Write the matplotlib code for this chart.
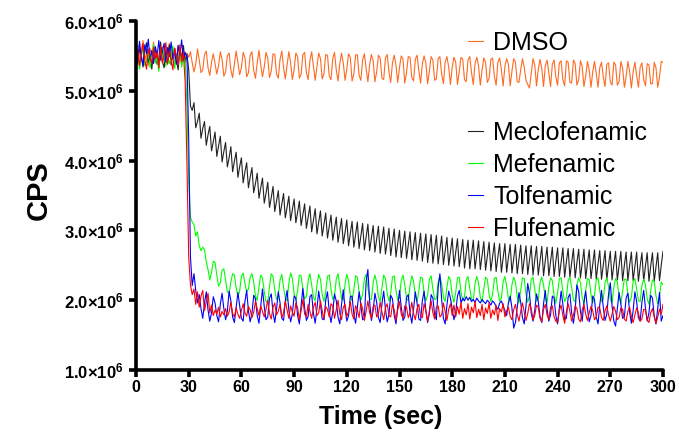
import numpy as np
import matplotlib.pyplot as plt

plt.rcParams['font.family'] = 'Liberation Sans'
plt.rcParams['mathtext.fontset'] = 'custom'
plt.rcParams['mathtext.rm'] = 'Liberation Sans:bold'
plt.rcParams['mathtext.it'] = 'Liberation Sans:bold'
plt.rcParams['mathtext.bf'] = 'Liberation Sans:bold'

# values, in units of 1e4 CPS, one per second (0..300 s)
dmso = [551,566,540,558,572,545,553,536,561,548,
        570,544,556,532,559,563,541,555,547,568,
        539,552,560,543,565,549,537,557,546,554,
        548,556,540,527,538,560,544,526,530,552,
        557,533,522,541,553,539,524,536,556,545,
        521,527,550,554,530,519,538,557,541,523,
        533,555,548,520,526,551,556,529,518,540,
        558,537,520,534,555,547,519,528,553,552,
        524,518,545,557,533,517,537,556,541,516,
        530,554,549,518,524,552,555,526,516,543,
        556,535,515,535,554,546,517,525,552,551,
        521,516,546,555,530,514,539,554,540,515,
        531,553,548,514,524,551,552,522,515,544,
        553,532,513,537,552,543,513,527,551,547,
        518,516,547,552,527,512,540,551,536,512,
        533,550,545,511,526,549,548,519,514,545,
        551,529,511,538,550,540,510,528,549,544,
        515,517,546,549,524,510,541,549,534,509,
        534,548,541,509,527,548,545,516,513,544,
        549,526,509,539,548,536,508,530,547,541,
        512,518,545,547,521,508,541,547,530,507,
        535,546,538,507,528,546,541,513,512,530,
        546,534,515,509,504,525,546,537,507,531,
        545,532,506,536,544,526,506,538,544,520,
        508,540,543,516,507,543,541,512,511,544,
        539,508,516,543,535,506,521,542,530,505,
        527,542,525,505,533,541,520,506,538,540,
        513,508,541,537,508,513,542,533,505,520,
        542,528,504,527,541,522,505,534,540,516,
        507,539,537,510,510,541,533,505,520,542,
        541]

meclofenamic = [545,538,560,552,534,557,569,541,549,531,
                556,563,538,547,570,542,533,558,550,566,
                537,554,561,544,530,559,547,565,540,552,
                530,478,472,483,447,456,468,432,446,456,
                422,437,449,414,427,441,406,421,435,398,
                413,426,391,404,420,384,399,412,376,391,
                404,368,384,397,361,376,390,354,367,382,
                346,361,375,339,353,369,333,347,363,327,
                342,357,322,338,353,318,333,349,314,330,
                345,311,326,342,307,323,338,303,319,335,
                298,315,331,295,311,328,292,308,325,289,
                305,322,286,302,319,283,300,317,281,297,
                315,278,296,313,276,294,312,274,292,310,
                272,291,309,271,289,307,269,288,306,267,
                286,305,266,285,303,264,283,302,262,282,
                300,261,280,299,260,279,298,258,278,297,
                257,277,296,256,276,295,254,274,294,253,
                273,293,252,272,292,251,271,290,250,270,
                289,249,269,288,248,268,287,246,267,286,
                245,266,286,245,265,285,244,264,284,243,
                263,283,242,262,282,241,262,281,240,261,
                281,240,261,280,239,260,280,238,259,279,
                238,259,278,237,258,278,236,258,277,236,
                257,277,235,257,276,235,256,276,234,256,
                275,234,255,275,233,255,274,233,254,274,
                232,254,273,232,253,273,231,253,272,231,
                252,272,230,252,271,230,251,271,229,251,
                270,229,251,270,229,250,270,228,250,269,
                228,250,269,228,249,269,227,249,268,227,
                249,268,227,249,268,227,248,268,228,250,
                270]

mefenamic = [538,555,531,549,562,536,544,558,533,551,
             566,540,548,528,557,545,561,535,552,539,
             547,564,532,553,541,559,534,550,543,480,
             372,318,312,308,292,298,278,271,276,272,
             255,244,229,240,256,254,236,220,225,243,
             245,228,212,210,226,238,236,218,205,213,
             234,239,224,212,216,233,238,226,206,200,
             219,236,232,212,198,196,220,238,234,214,
             201,207,229,237,218,203,199,224,239,231,
             209,200,214,236,235,215,202,205,228,238,
             222,204,199,221,237,230,208,198,212,234,
             236,216,201,206,230,238,220,203,200,223,
             237,228,207,199,215,235,233,212,200,208,
             231,237,218,202,201,225,236,226,205,198,
             218,236,231,210,199,210,233,235,214,200,
             204,228,236,222,203,199,221,235,227,206,
             198,213,233,232,210,199,207,230,235,216,
             201,202,226,234,224,204,198,219,234,229,
             207,197,211,232,233,212,199,205,229,234,
             218,201,200,224,234,225,204,197,216,233,
             230,208,198,209,231,233,213,199,203,227,
             234,220,202,198,222,233,226,205,196,214,
             232,231,209,197,207,230,233,215,199,201,
             225,233,222,203,196,219,232,228,207,196,
             211,231,232,212,198,204,228,233,218,200,
             198,222,232,225,204,195,215,231,229,208,
             196,208,229,232,214,198,201,225,232,220,
             201,196,219,231,226,205,195,212,230,230,
             210,197,204,227,231,216,199,198,221,230,
             222,202,194,214,229,227,206,195,205,226,
             222]

tolfenamic = [560,542,571,548,536,566,553,574,545,558,
              539,563,550,572,544,556,568,541,562,549,
              570,546,557,538,565,551,573,543,555,548,
              430,262,221,238,214,196,208,188,174,196,
              212,186,170,182,205,196,178,169,194,210,
              188,172,184,213,199,176,168,190,211,193,
              174,170,198,214,185,169,181,207,202,178,
              167,192,216,191,172,176,203,209,182,168,
              187,212,196,174,171,199,214,186,169,180,
              206,203,178,166,193,217,189,171,177,205,
              208,181,167,188,213,195,173,172,200,212,
              184,168,183,209,199,176,166,194,215,188,
              170,178,205,206,180,167,190,212,193,172,
              174,226,244,198,171,185,210,197,175,168,
              195,213,187,169,180,207,202,178,166,191,
              214,190,171,176,204,208,182,167,187,212,
              196,173,171,199,213,185,168,181,208,203,
              179,172,218,238,201,174,166,193,213,203,
              187,172,183,206,214,196,203,199,205,200,
              204,198,201,197,203,199,196,201,198,195,
              200,197,193,199,196,191,187,196,199,192,
              185,178,196,206,189,160,168,190,211,197,
              175,166,192,224,209,181,170,186,209,198,
              176,168,195,214,187,170,179,206,203,178,
              166,189,213,194,172,174,204,209,182,167,
              186,222,212,184,170,197,213,188,169,178,
              206,201,176,166,193,214,190,171,180,208,
              225,192,170,163,188,211,195,174,176,203,
              210,183,167,185,212,198,175,170,197,214,
              189,170,182,207,203,178,166,189,211,170,
              178]

flufenamic = [541,557,536,552,568,544,531,560,549,539,
              562,546,555,533,564,540,551,569,538,557,
              545,530,561,549,537,566,542,554,512,395,
              262,222,208,216,194,212,190,206,214,185,
              198,210,182,193,178,186,180,190,176,184,
              179,188,177,183,197,181,176,189,180,174,
              185,195,182,177,191,186,175,183,198,188,
              178,192,184,176,187,200,181,173,190,196,
              179,184,194,175,182,199,186,174,192,183,
              177,196,189,172,185,201,180,176,194,184,
              174,190,197,178,182,199,185,173,191,187,
              176,195,192,174,186,200,181,172,190,194,
              177,183,198,180,173,192,186,175,196,188,
              171,184,199,182,174,191,193,176,181,197,
              183,172,189,195,178,176,194,186,171,186,
              198,180,174,192,190,175,182,197,181,172,
              188,194,177,175,195,185,170,184,199,182,
              173,190,192,176,179,196,184,171,187,195,
              178,193,176,191,180,197,174,188,179,195,
              173,190,182,198,175,187,178,194,172,189,
              181,196,174,186,179,193,171,188,183,195,
              176,185,190,177,172,186,194,180,170,184,
              196,183,171,181,195,188,172,178,193,190,
              174,169,187,194,179,172,190,192,176,170,
              168,185,193,178,167,183,195,184,170,178,
              192,188,173,169,186,194,180,171,182,191,
              185,172,176,190,189,175,171,185,192,179,
              170,180,191,184,172,175,189,187,173,170,
              184,190,177,168,179,189,182,170,173,187,
              186,172,168,182,188,176,167,176,187,180,
              194]

names = ["DMSO", "Meclofenamic", "Mefenamic", "Tolfenamic", "Flufenamic"]
colors = ["#FF6A22", "#222222", "#00FF00", "#0000FF", "#FF0000"]
xticks = [0, 30, 60, 90, 120, 150, 180, 210, 240, 270, 300]
yticks = [1.0, 2.0, 3.0, 4.0, 5.0, 6.0]

fig = plt.figure(figsize=(6.79, 4.32), dpi=100)
ax = fig.add_axes([136/679, 62/432, 527/679, 349/432])

lines = []
for vals, col, name in zip([dmso, meclofenamic, mefenamic, tolfenamic, flufenamic], colors, names):
    v = np.array(vals) * 1e4
    t = np.arange(len(v))
    l, = ax.plot(t, v, color=col, lw=0.8, label=name)
    lines.append(l)

ax.set_xlim(0, 300)
ax.set_ylim(1e6, 6e6)
ax.set_xticks(xticks)
ax.set_xticklabels([str(x) for x in xticks], fontweight='bold', fontsize=11.5)
ax.set_yticks([y * 1e6 for y in yticks])
ax.set_yticklabels(['%.1f×10$^{6}$' % y for y in yticks], fontweight='bold', fontsize=12)

for s in ['top', 'right']:
    ax.spines[s].set_visible(False)
for s in ['left', 'bottom']:
    ax.spines[s].set_linewidth(2.6)
    ax.spines[s].set_capstyle('round')
ax.tick_params(direction='out', length=5, width=2.6, pad=2)
ax.tick_params(axis='y', pad=4)

ax.set_xlabel('Time (sec)', fontsize=18, fontweight='bold')
ax.xaxis.set_label_coords((381-136)/527, -0.10)
ax.set_ylabel('CPS', fontsize=21, fontweight='bold')
ax.yaxis.set_label_coords(-0.158, 0.516)

leg1 = ax.legend([lines[0]], [names[0]], loc='upper left',
                 bbox_to_anchor=(468/679, 1 - 31/432), bbox_transform=fig.transFigure,
                 frameon=False, fontsize=18, handlelength=0.6, handletextpad=0.4,
                 borderpad=0, borderaxespad=0, labelspacing=0.1)
ax.add_artist(leg1)
ax.legend(lines[1:], names[1:], loc='upper left',
          bbox_to_anchor=(468/679, 1 - 121/432), bbox_transform=fig.transFigure,
          frameon=False, fontsize=18, handlelength=0.6, handletextpad=0.4,
          borderpad=0, borderaxespad=0, labelspacing=0.32)

fig.savefig('out.png', dpi=100)
